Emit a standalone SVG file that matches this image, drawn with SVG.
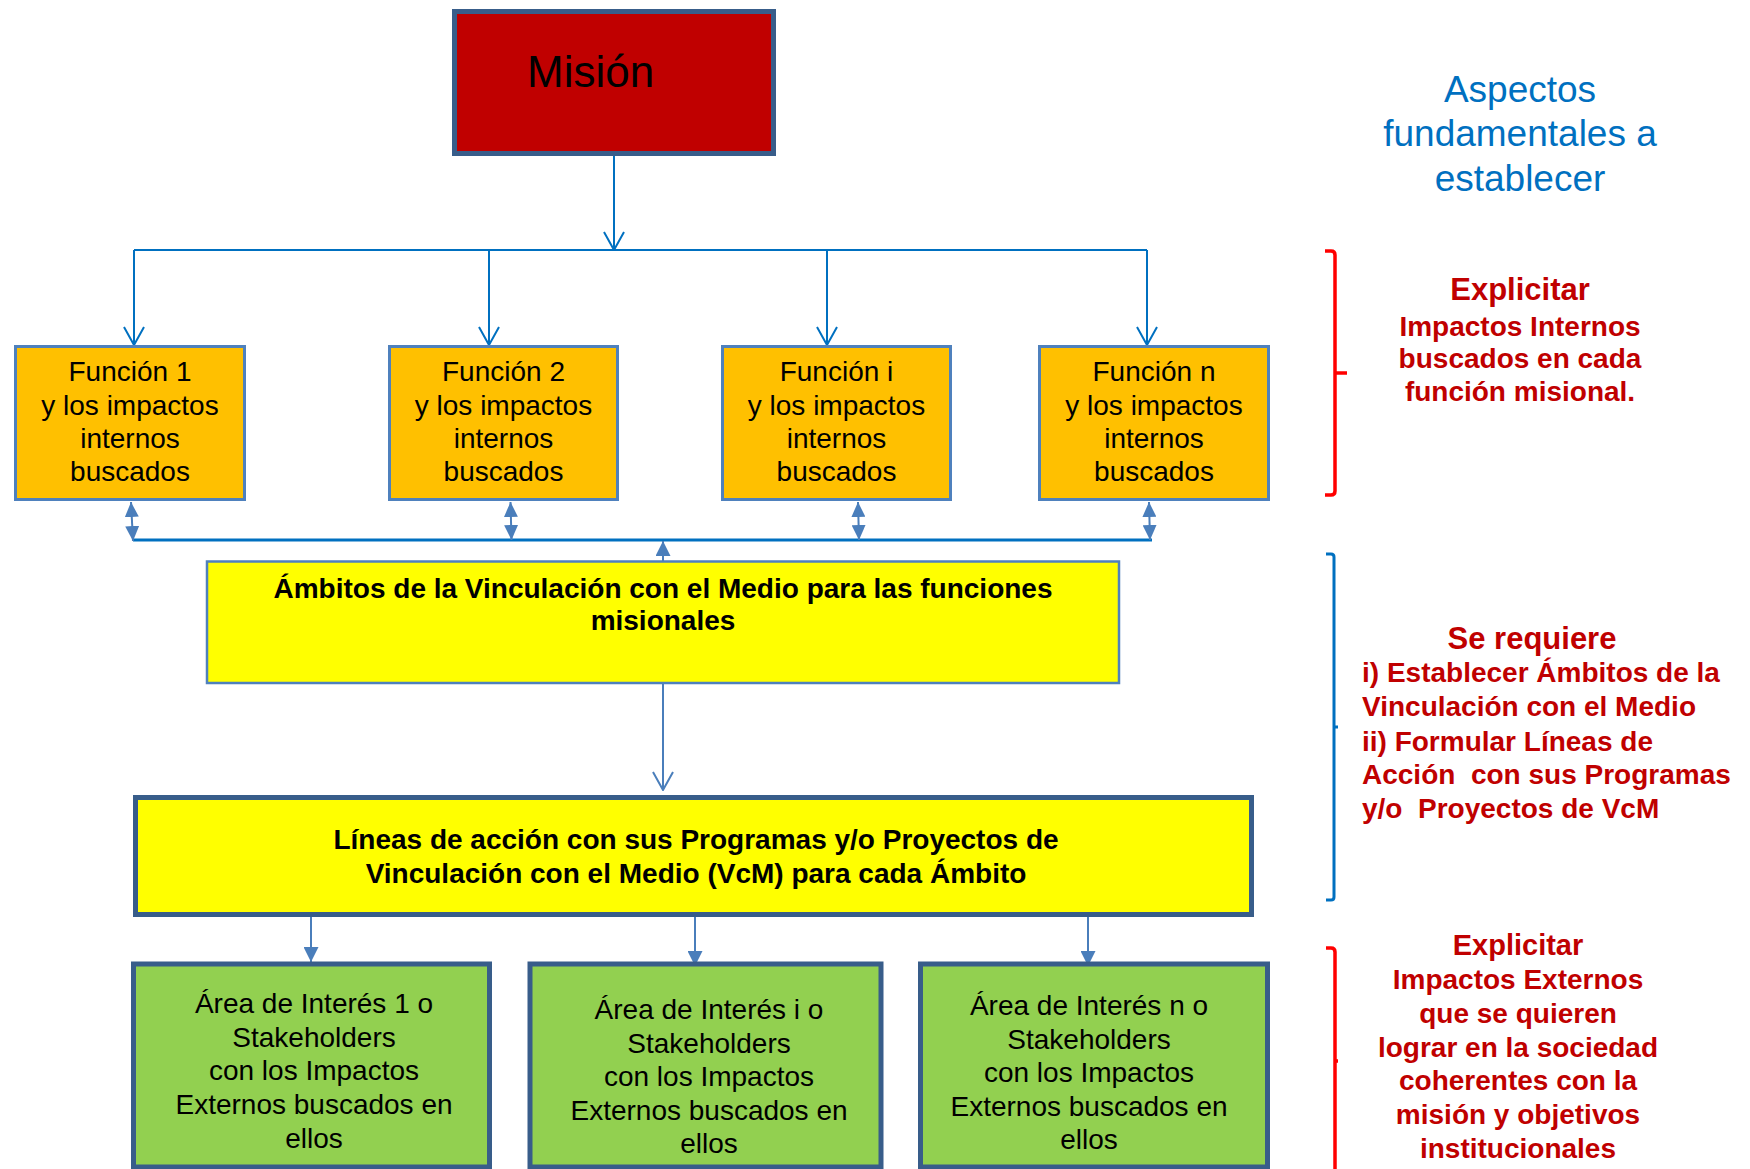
<svg xmlns="http://www.w3.org/2000/svg" width="1750" height="1169" viewBox="0 0 1750 1169">
<style>
.lbl{font-family:"Liberation Sans",Arial,sans-serif;font-size:28px;fill:#000;text-anchor:middle}
.b{font-weight:bold}
.side{font-family:"Liberation Sans",Arial,sans-serif;font-weight:bold;font-size:28px;fill:#C00000}
.big{font-size:31px}
.mid{font-size:29px}
.func{fill:#FFC000;stroke:#4F81BD;stroke-width:3}
.green{fill:#92D050;stroke:#385D8A;stroke-width:5}
.tree{stroke:#0070C0;stroke-width:2;fill:none}
.thin{stroke:#4A7EBB;stroke-width:2;fill:none}
.asp{font-family:"Liberation Sans",Arial,sans-serif;font-size:37px;fill:#0070C0;text-anchor:middle}
</style>
<defs>
<marker id="vopen" viewBox="0 0 20 22" refX="19" refY="11" markerWidth="20" markerHeight="22" markerUnits="userSpaceOnUse" orient="auto">
<path d="M1,1 L19,11 L1,21" fill="none" stroke="#0070C0" stroke-width="2"/>
</marker>
<marker id="vopen2" viewBox="0 0 20 22" refX="19" refY="11" markerWidth="20" markerHeight="22" markerUnits="userSpaceOnUse" orient="auto">
<path d="M1,1 L19,11 L1,21" fill="none" stroke="#4A7EBB" stroke-width="2"/>
</marker>
<marker id="tri" viewBox="0 0 15 15" refX="15" refY="7.5" markerWidth="15" markerHeight="15" markerUnits="userSpaceOnUse" orient="auto-start-reverse">
<path d="M0,0 L15,7.5 L0,15 z" fill="#4A7EBB"/>
</marker>
<marker id="tri2" viewBox="0 0 15 14" refX="15" refY="7" markerWidth="15" markerHeight="14" markerUnits="userSpaceOnUse" orient="auto-start-reverse">
<path d="M0,0 L15,7 L0,14 z" fill="#4A7EBB"/>
</marker>
</defs>
<rect width="1750" height="1169" fill="#fff"/>

<g id="connectors">
<line class="tree" x1="614" y1="156" x2="614" y2="250" marker-end="url(#vopen)"/>
<line class="tree" x1="134" y1="250" x2="1147" y2="250"/>
<line class="tree" x1="134" y1="250" x2="134" y2="345" marker-end="url(#vopen)"/>
<line class="tree" x1="489" y1="250" x2="489" y2="345" marker-end="url(#vopen)"/>
<line class="tree" x1="827" y1="250" x2="827" y2="345" marker-end="url(#vopen)"/>
<line class="tree" x1="1147" y1="250" x2="1147" y2="345" marker-end="url(#vopen)"/>
<line x1="133" y1="540" x2="1152" y2="540" stroke="#0070C0" stroke-width="3"/>
<line class="thin" x1="131" y1="502" x2="133" y2="541" marker-start="url(#tri2)" marker-end="url(#tri2)"/>
<line class="thin" x1="510.5" y1="502" x2="511.5" y2="540" marker-start="url(#tri2)" marker-end="url(#tri2)"/>
<line class="thin" x1="858" y1="502" x2="859" y2="540" marker-start="url(#tri2)" marker-end="url(#tri2)"/>
<line class="thin" x1="1149" y1="502" x2="1150" y2="540" marker-start="url(#tri2)" marker-end="url(#tri2)"/>
<line class="thin" x1="663" y1="561" x2="663" y2="541" marker-end="url(#tri)"/>
<line class="thin" x1="663" y1="684" x2="663" y2="790" marker-end="url(#vopen2)"/>
<line class="thin" x1="311" y1="917" x2="311" y2="962" marker-end="url(#tri)"/>
<line class="thin" x1="695" y1="917" x2="695" y2="966" marker-end="url(#tri)"/>
<line class="thin" x1="1088" y1="917" x2="1088" y2="966" marker-end="url(#tri)"/>
</g>

<g id="mision">
<rect x="454.5" y="11.5" width="319" height="142" fill="#C00000" stroke="#385D8A" stroke-width="5"/>
<text x="527" y="87" font-family="Liberation Sans, Arial, sans-serif" font-size="44" fill="#000">Misión</text>
</g>

<g id="funcion1">
<rect class="func" x="15.5" y="346.5" width="229" height="153"/>
<text class="lbl" x="130" y="381">Función 1</text>
<text class="lbl" x="130" y="415">y los impactos</text>
<text class="lbl" x="130" y="448">internos</text>
<text class="lbl" x="130" y="481">buscados</text>
</g>
<g id="funcion2">
<rect class="func" x="389.5" y="346.5" width="228" height="153"/>
<text class="lbl" x="503.5" y="381">Función 2</text>
<text class="lbl" x="503.5" y="415">y los impactos</text>
<text class="lbl" x="503.5" y="448">internos</text>
<text class="lbl" x="503.5" y="481">buscados</text>
</g>
<g id="funcioni">
<rect class="func" x="722.5" y="346.5" width="228" height="153"/>
<text class="lbl" x="836.5" y="381">Función i</text>
<text class="lbl" x="836.5" y="415">y los impactos</text>
<text class="lbl" x="836.5" y="448">internos</text>
<text class="lbl" x="836.5" y="481">buscados</text>
</g>
<g id="funcionn">
<rect class="func" x="1039.5" y="346.5" width="229" height="153"/>
<text class="lbl" x="1154" y="381">Función n</text>
<text class="lbl" x="1154" y="415">y los impactos</text>
<text class="lbl" x="1154" y="448">internos</text>
<text class="lbl" x="1154" y="481">buscados</text>
</g>

<g id="ambitos">
<rect x="207" y="561.5" width="912" height="121.5" fill="#FFFF00" stroke="#4F81BD" stroke-width="2.5"/>
<text class="lbl b" x="663" y="598">Ámbitos de la Vinculación con el Medio para las funciones</text>
<text class="lbl b" x="663" y="630">misionales</text>
</g>

<g id="lineas">
<rect x="135.5" y="797.5" width="1116" height="117" fill="#FFFF00" stroke="#385D8A" stroke-width="5"/>
<text class="lbl b" x="696" y="849">Líneas de acción con sus Programas y/o Proyectos de</text>
<text class="lbl b" x="696" y="883">Vinculación con el Medio (VcM) para cada Ámbito</text>
</g>

<g id="area1">
<rect class="green" x="133.5" y="964" width="356" height="203"/>
<text class="lbl" x="314" y="1013">Área de Interés 1 o</text>
<text class="lbl" x="314" y="1047">Stakeholders</text>
<text class="lbl" x="314" y="1080">con los Impactos</text>
<text class="lbl" x="314" y="1114">Externos buscados en</text>
<text class="lbl" x="314" y="1148">ellos</text>
</g>
<g id="areai">
<rect class="green" x="530" y="964" width="351" height="203"/>
<text class="lbl" x="709" y="1019">Área de Interés i o</text>
<text class="lbl" x="709" y="1053">Stakeholders</text>
<text class="lbl" x="709" y="1086">con los Impactos</text>
<text class="lbl" x="709" y="1120">Externos buscados en</text>
<text class="lbl" x="709" y="1153">ellos</text>
</g>
<g id="arean">
<rect class="green" x="920.5" y="964" width="347" height="203"/>
<text class="lbl" x="1089" y="1015">Área de Interés n o</text>
<text class="lbl" x="1089" y="1049">Stakeholders</text>
<text class="lbl" x="1089" y="1082">con los Impactos</text>
<text class="lbl" x="1089" y="1116">Externos buscados en</text>
<text class="lbl" x="1089" y="1149">ellos</text>
</g>

<g id="aspectos">
<text class="asp" x="1520" y="102">Aspectos</text>
<text class="asp" x="1520" y="146">fundamentales a</text>
<text class="asp" x="1520" y="191">establecer</text>
</g>

<g id="bracket1">
<path d="M1325,251 L1331,251 Q1335,251 1335,255 L1335,491 Q1335,495 1331,495 L1325,495 M1335,373 L1347,373" fill="none" stroke="#FF0000" stroke-width="3.5"/>
<text class="side big" x="1520" y="300" text-anchor="middle">Explicitar</text>
<text class="side" x="1520" y="336" text-anchor="middle">Impactos Internos</text>
<text class="side" x="1520" y="368" text-anchor="middle">buscados en cada</text>
<text class="side" x="1520" y="401" text-anchor="middle">función misional.</text>
</g>

<g id="bracket2">
<path d="M1326,554 L1331,554 Q1334,554 1334,557 L1334,897 Q1334,900 1331,900 L1326,900 M1334,727 L1338,727" fill="none" stroke="#0070C0" stroke-width="3"/>
<text class="side big" x="1532" y="649" text-anchor="middle">Se requiere</text>
<text class="side" x="1362" y="682">i) Establecer Ámbitos de la</text>
<text class="side" x="1362" y="716">Vinculación con el Medio</text>
<text class="side" x="1362" y="751">ii) Formular Líneas de</text>
<text class="side" x="1362" y="784" xml:space="preserve">Acción  con sus Programas</text>
<text class="side" x="1362" y="818" xml:space="preserve">y/o  Proyectos de VcM</text>
</g>

<g id="bracket3">
<path d="M1326,948 L1331,948 Q1335,948 1335,952 L1335,1175 M1335,1061 L1338,1061" fill="none" stroke="#FF0000" stroke-width="3.5"/>
<text class="side mid" x="1518" y="955" text-anchor="middle">Explicitar</text>
<text class="side" x="1518" y="989" text-anchor="middle">Impactos Externos</text>
<text class="side" x="1518" y="1023" text-anchor="middle">que se quieren</text>
<text class="side" x="1518" y="1057" text-anchor="middle">lograr en la sociedad</text>
<text class="side" x="1518" y="1090" text-anchor="middle">coherentes con la</text>
<text class="side" x="1518" y="1124" text-anchor="middle">misión y objetivos</text>
<text class="side" x="1518" y="1158" text-anchor="middle">institucionales</text>
</g>
</svg>
